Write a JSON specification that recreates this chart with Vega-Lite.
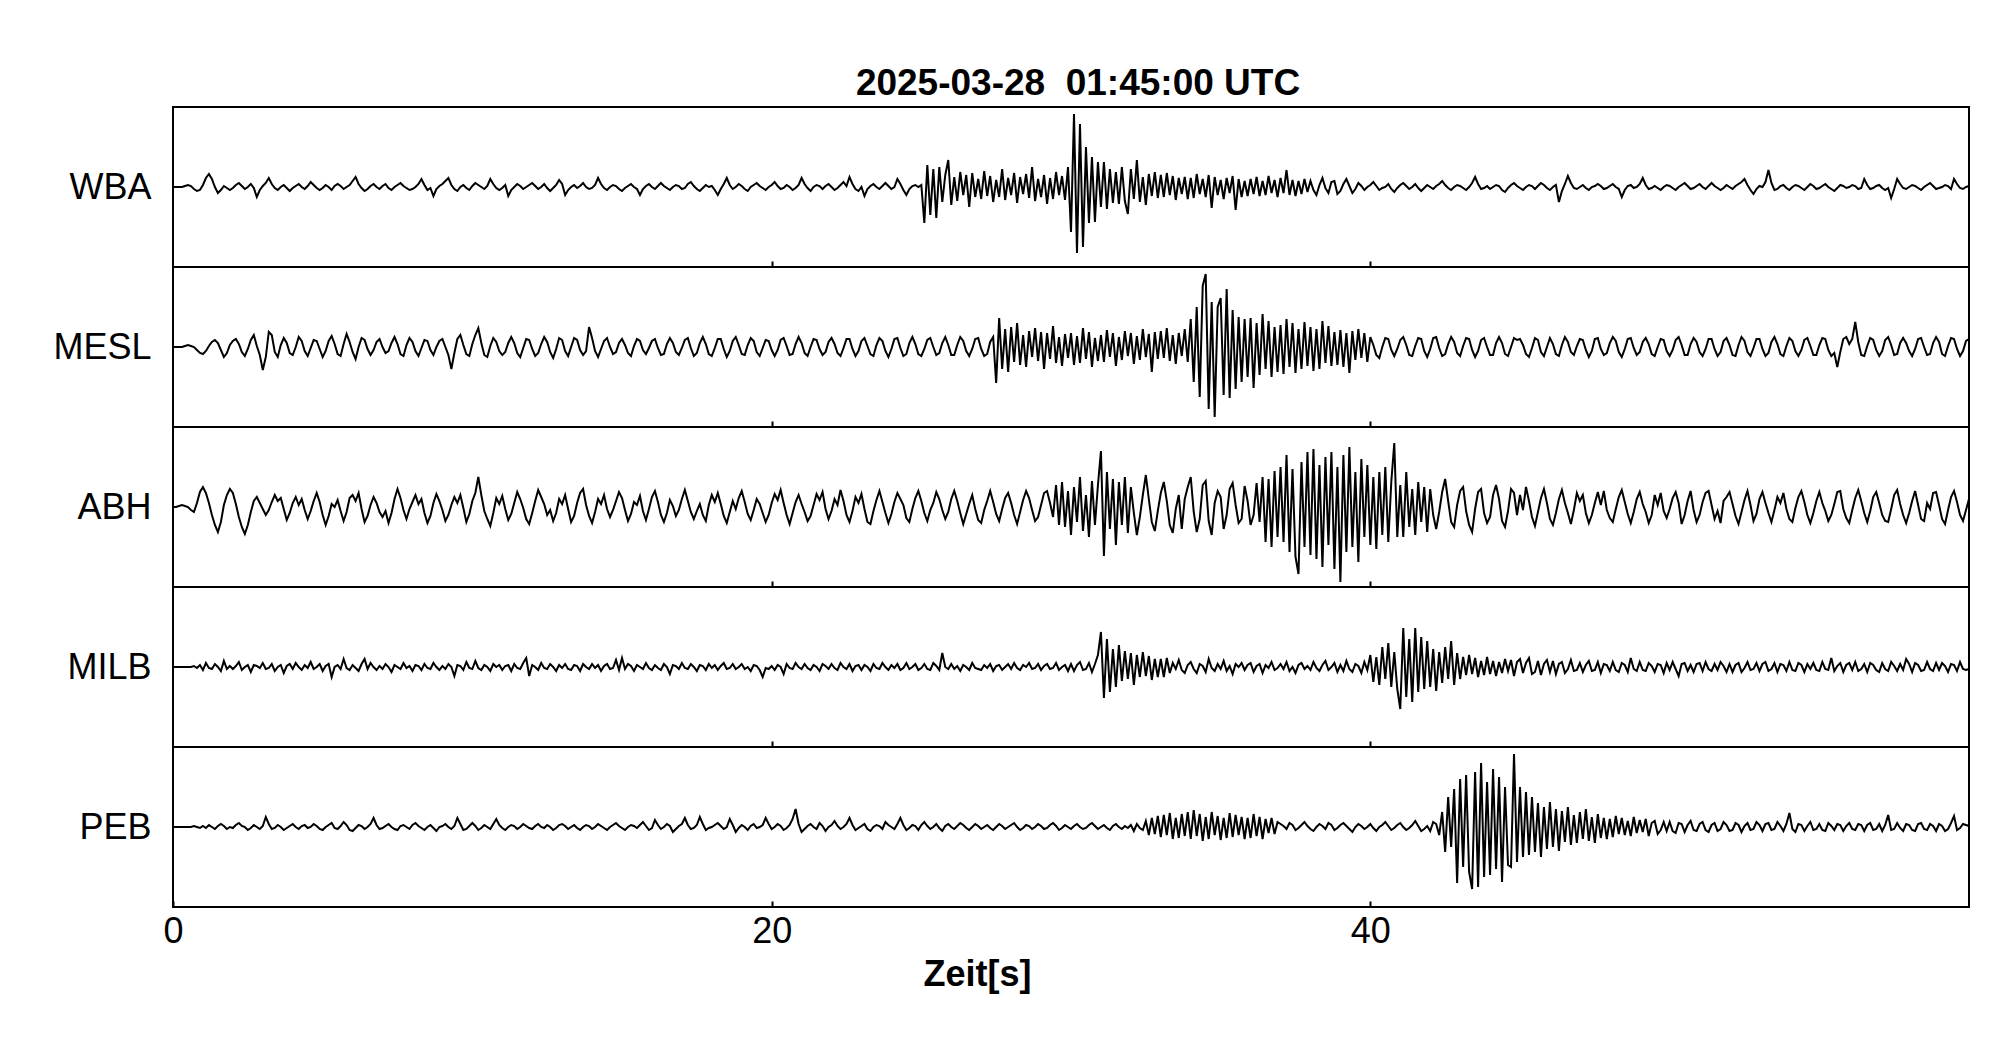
{
"$schema":"https://vega.github.io/schema/vega-lite/v6.json",
"background":"white",
"padding":{"left":51,"top":64,"right":5,"bottom":5},
"config":{"font":"Liberation Sans","view":{"stroke":"black","strokeWidth":2},"axis":{"grid":false,"domain":false,"tickColor":"black","tickWidth":2,"labelColor":"black","titleColor":"black"}},
"spacing":0,
"bounds":"flush",
"data":{"values":[
{"t":0,"WBA":0,"MESL":0,"ABH":0,"MILB":0,"PEB":0},
{"t":0.1,"WBA":0,"MESL":0,"ABH":0,"MILB":0,"PEB":0},
{"t":0.2,"WBA":0,"MESL":0,"ABH":1,"MILB":0,"PEB":0},
{"t":0.3,"WBA":0,"MESL":0,"ABH":2,"MILB":0,"PEB":0},
{"t":0.4,"WBA":1,"MESL":1,"ABH":1,"MILB":0,"PEB":0},
{"t":0.5,"WBA":2,"MESL":2,"ABH":0,"MILB":0,"PEB":0},
{"t":0.6,"WBA":1,"MESL":1,"ABH":-3,"MILB":0,"PEB":0},
{"t":0.7,"WBA":-2,"MESL":0,"ABH":-5,"MILB":1,"PEB":1},
{"t":0.8,"WBA":-4,"MESL":-3,"ABH":4,"MILB":-1,"PEB":0},
{"t":0.9,"WBA":-3,"MESL":-6,"ABH":15,"MILB":2,"PEB":-1},
{"t":1,"WBA":2,"MESL":-7,"ABH":20,"MILB":-3,"PEB":1},
{"t":1.1,"WBA":9,"MESL":-4,"ABH":14,"MILB":4,"PEB":-1},
{"t":1.2,"WBA":13,"MESL":1,"ABH":4,"MILB":-1,"PEB":2},
{"t":1.3,"WBA":8,"MESL":5,"ABH":-8,"MILB":-2,"PEB":0},
{"t":1.4,"WBA":0,"MESL":7,"ABH":-18,"MILB":3,"PEB":-2},
{"t":1.5,"WBA":-6,"MESL":4,"ABH":-25,"MILB":0,"PEB":1},
{"t":1.6,"WBA":-3,"MESL":-3,"ABH":-15,"MILB":-4,"PEB":3},
{"t":1.7,"WBA":1,"MESL":-10,"ABH":2,"MILB":6,"PEB":1},
{"t":1.8,"WBA":-1,"MESL":-6,"ABH":12,"MILB":-2,"PEB":-2},
{"t":1.9,"WBA":-3,"MESL":2,"ABH":18,"MILB":1,"PEB":0},
{"t":2,"WBA":-1,"MESL":6,"ABH":14,"MILB":-2,"PEB":-1},
{"t":2.1,"WBA":2,"MESL":8,"ABH":3,"MILB":1,"PEB":2},
{"t":2.2,"WBA":4,"MESL":3,"ABH":-10,"MILB":5,"PEB":4},
{"t":2.3,"WBA":1,"MESL":-5,"ABH":-20,"MILB":-3,"PEB":1},
{"t":2.4,"WBA":-2,"MESL":-9,"ABH":-27,"MILB":0,"PEB":0},
{"t":2.5,"WBA":0,"MESL":-2,"ABH":-18,"MILB":2,"PEB":-3},
{"t":2.6,"WBA":3,"MESL":7,"ABH":-5,"MILB":-5,"PEB":-1},
{"t":2.7,"WBA":-1,"MESL":12,"ABH":6,"MILB":2,"PEB":2},
{"t":2.8,"WBA":-10,"MESL":1,"ABH":10,"MILB":1,"PEB":0},
{"t":2.9,"WBA":-3,"MESL":-8,"ABH":4,"MILB":-1,"PEB":-2},
{"t":3,"WBA":1,"MESL":-23,"ABH":-2,"MILB":4,"PEB":1},
{"t":3.1,"WBA":4,"MESL":-10,"ABH":-8,"MILB":-2,"PEB":10},
{"t":3.2,"WBA":9,"MESL":15,"ABH":-3,"MILB":-1,"PEB":3},
{"t":3.3,"WBA":3,"MESL":12,"ABH":5,"MILB":3,"PEB":-2},
{"t":3.4,"WBA":-1,"MESL":-5,"ABH":12,"MILB":-4,"PEB":-1},
{"t":3.5,"WBA":-3,"MESL":-10,"ABH":6,"MILB":0,"PEB":2},
{"t":3.6,"WBA":0,"MESL":2,"ABH":9,"MILB":2,"PEB":0},
{"t":3.7,"WBA":2,"MESL":9,"ABH":-2,"MILB":-6,"PEB":-3},
{"t":3.8,"WBA":-1,"MESL":4,"ABH":-13,"MILB":1,"PEB":-1},
{"t":3.9,"WBA":-4,"MESL":-6,"ABH":-6,"MILB":3,"PEB":1},
{"t":4,"WBA":-1,"MESL":-8,"ABH":4,"MILB":-2,"PEB":3},
{"t":4.1,"WBA":1,"MESL":0,"ABH":10,"MILB":4,"PEB":0},
{"t":4.2,"WBA":3,"MESL":10,"ABH":2,"MILB":0,"PEB":-2},
{"t":4.3,"WBA":0,"MESL":6,"ABH":8,"MILB":-3,"PEB":1},
{"t":4.4,"WBA":-2,"MESL":-4,"ABH":-3,"MILB":2,"PEB":2},
{"t":4.5,"WBA":1,"MESL":-9,"ABH":-12,"MILB":-1,"PEB":-1},
{"t":4.6,"WBA":5,"MESL":-1,"ABH":-4,"MILB":5,"PEB":0},
{"t":4.7,"WBA":2,"MESL":7,"ABH":6,"MILB":-2,"PEB":3},
{"t":4.8,"WBA":-1,"MESL":6,"ABH":14,"MILB":0,"PEB":1},
{"t":4.9,"WBA":-3,"MESL":-2,"ABH":5,"MILB":3,"PEB":-2},
{"t":5,"WBA":-1,"MESL":-10,"ABH":-8,"MILB":-4,"PEB":-3},
{"t":5.1,"WBA":2,"MESL":-4,"ABH":-18,"MILB":1,"PEB":0},
{"t":5.2,"WBA":0,"MESL":6,"ABH":-9,"MILB":3,"PEB":2},
{"t":5.3,"WBA":-3,"MESL":11,"ABH":3,"MILB":-10,"PEB":4},
{"t":5.4,"WBA":1,"MESL":3,"ABH":0,"MILB":0,"PEB":-1},
{"t":5.5,"WBA":3,"MESL":-7,"ABH":7,"MILB":2,"PEB":-2},
{"t":5.6,"WBA":1,"MESL":-9,"ABH":-4,"MILB":-2,"PEB":1},
{"t":5.7,"WBA":-2,"MESL":3,"ABH":-14,"MILB":8,"PEB":5},
{"t":5.8,"WBA":0,"MESL":13,"ABH":-5,"MILB":-1,"PEB":2},
{"t":5.9,"WBA":2,"MESL":5,"ABH":9,"MILB":-3,"PEB":-3},
{"t":6,"WBA":6,"MESL":-5,"ABH":12,"MILB":2,"PEB":-4},
{"t":6.1,"WBA":10,"MESL":-12,"ABH":6,"MILB":-1,"PEB":-1},
{"t":6.2,"WBA":3,"MESL":0,"ABH":14,"MILB":-4,"PEB":2},
{"t":6.3,"WBA":-1,"MESL":9,"ABH":-2,"MILB":3,"PEB":1},
{"t":6.4,"WBA":-4,"MESL":7,"ABH":-15,"MILB":8,"PEB":-2},
{"t":6.5,"WBA":-2,"MESL":-2,"ABH":-9,"MILB":-2,"PEB":0},
{"t":6.6,"WBA":1,"MESL":-8,"ABH":2,"MILB":4,"PEB":3},
{"t":6.7,"WBA":3,"MESL":-3,"ABH":10,"MILB":0,"PEB":9},
{"t":6.8,"WBA":0,"MESL":5,"ABH":4,"MILB":-3,"PEB":2},
{"t":6.9,"WBA":-2,"MESL":8,"ABH":-5,"MILB":1,"PEB":-2},
{"t":7,"WBA":1,"MESL":0,"ABH":-10,"MILB":-2,"PEB":-1},
{"t":7.1,"WBA":3,"MESL":-6,"ABH":-4,"MILB":3,"PEB":1},
{"t":7.2,"WBA":-1,"MESL":-4,"ABH":-16,"MILB":0,"PEB":3},
{"t":7.3,"WBA":-3,"MESL":4,"ABH":-6,"MILB":-5,"PEB":0},
{"t":7.4,"WBA":0,"MESL":10,"ABH":8,"MILB":2,"PEB":-2},
{"t":7.5,"WBA":2,"MESL":3,"ABH":18,"MILB":0,"PEB":-3},
{"t":7.6,"WBA":4,"MESL":-7,"ABH":9,"MILB":-2,"PEB":1},
{"t":7.7,"WBA":1,"MESL":-9,"ABH":-3,"MILB":4,"PEB":2},
{"t":7.8,"WBA":-1,"MESL":2,"ABH":-12,"MILB":-1,"PEB":0},
{"t":7.9,"WBA":-3,"MESL":9,"ABH":-2,"MILB":1,"PEB":-2},
{"t":8,"WBA":-2,"MESL":5,"ABH":5,"MILB":-4,"PEB":2},
{"t":8.1,"WBA":0,"MESL":-4,"ABH":12,"MILB":2,"PEB":4},
{"t":8.2,"WBA":3,"MESL":-9,"ABH":3,"MILB":1,"PEB":1},
{"t":8.3,"WBA":8,"MESL":-1,"ABH":8,"MILB":-3,"PEB":-1},
{"t":8.4,"WBA":2,"MESL":7,"ABH":-6,"MILB":3,"PEB":-3},
{"t":8.5,"WBA":-3,"MESL":6,"ABH":-16,"MILB":-1,"PEB":0},
{"t":8.6,"WBA":-1,"MESL":-3,"ABH":-9,"MILB":-2,"PEB":2},
{"t":8.7,"WBA":-9,"MESL":-8,"ABH":4,"MILB":4,"PEB":-1},
{"t":8.8,"WBA":-2,"MESL":0,"ABH":13,"MILB":0,"PEB":-4},
{"t":8.9,"WBA":1,"MESL":6,"ABH":6,"MILB":-3,"PEB":0},
{"t":9,"WBA":3,"MESL":8,"ABH":-3,"MILB":1,"PEB":1},
{"t":9.1,"WBA":6,"MESL":0,"ABH":-14,"MILB":-2,"PEB":3},
{"t":9.2,"WBA":9,"MESL":-8,"ABH":-8,"MILB":3,"PEB":0},
{"t":9.3,"WBA":2,"MESL":-22,"ABH":2,"MILB":0,"PEB":-2},
{"t":9.4,"WBA":-2,"MESL":-6,"ABH":10,"MILB":-9,"PEB":1},
{"t":9.5,"WBA":-4,"MESL":8,"ABH":4,"MILB":2,"PEB":9},
{"t":9.6,"WBA":0,"MESL":12,"ABH":12,"MILB":1,"PEB":3},
{"t":9.7,"WBA":2,"MESL":2,"ABH":-1,"MILB":-3,"PEB":-3},
{"t":9.8,"WBA":-1,"MESL":-7,"ABH":-15,"MILB":5,"PEB":-2},
{"t":9.9,"WBA":-3,"MESL":-9,"ABH":-7,"MILB":-1,"PEB":1},
{"t":10,"WBA":1,"MESL":3,"ABH":6,"MILB":-2,"PEB":4},
{"t":10.1,"WBA":4,"MESL":12,"ABH":14,"MILB":6,"PEB":1},
{"t":10.2,"WBA":2,"MESL":19,"ABH":30,"MILB":-1,"PEB":-3},
{"t":10.3,"WBA":0,"MESL":4,"ABH":12,"MILB":-3,"PEB":-1},
{"t":10.4,"WBA":-2,"MESL":-8,"ABH":-4,"MILB":2,"PEB":2},
{"t":10.5,"WBA":1,"MESL":-10,"ABH":-12,"MILB":0,"PEB":0},
{"t":10.6,"WBA":8,"MESL":1,"ABH":-19,"MILB":-4,"PEB":-2},
{"t":10.7,"WBA":3,"MESL":9,"ABH":-6,"MILB":3,"PEB":3},
{"t":10.8,"WBA":-1,"MESL":5,"ABH":9,"MILB":0,"PEB":8},
{"t":10.9,"WBA":-3,"MESL":-4,"ABH":3,"MILB":2,"PEB":2},
{"t":11,"WBA":-1,"MESL":-8,"ABH":11,"MILB":-3,"PEB":-1},
{"t":11.1,"WBA":2,"MESL":-5,"ABH":-2,"MILB":1,"PEB":-3},
{"t":11.2,"WBA":-9,"MESL":4,"ABH":-13,"MILB":2,"PEB":0},
{"t":11.3,"WBA":-3,"MESL":10,"ABH":-7,"MILB":-4,"PEB":2},
{"t":11.4,"WBA":0,"MESL":4,"ABH":4,"MILB":3,"PEB":1},
{"t":11.5,"WBA":3,"MESL":-6,"ABH":15,"MILB":-1,"PEB":-2},
{"t":11.6,"WBA":1,"MESL":-10,"ABH":8,"MILB":-2,"PEB":0},
{"t":11.7,"WBA":-2,"MESL":-1,"ABH":-1,"MILB":4,"PEB":3},
{"t":11.8,"WBA":0,"MESL":8,"ABH":-12,"MILB":9,"PEB":1},
{"t":11.9,"WBA":2,"MESL":7,"ABH":-17,"MILB":-9,"PEB":-1},
{"t":12,"WBA":4,"MESL":-2,"ABH":-6,"MILB":2,"PEB":-2},
{"t":12.1,"WBA":1,"MESL":-9,"ABH":6,"MILB":0,"PEB":1},
{"t":12.2,"WBA":-2,"MESL":-6,"ABH":17,"MILB":-3,"PEB":3},
{"t":12.3,"WBA":0,"MESL":3,"ABH":10,"MILB":4,"PEB":0},
{"t":12.4,"WBA":3,"MESL":10,"ABH":3,"MILB":-1,"PEB":-1},
{"t":12.5,"WBA":-1,"MESL":5,"ABH":-8,"MILB":-2,"PEB":2},
{"t":12.6,"WBA":-4,"MESL":-5,"ABH":-3,"MILB":3,"PEB":0},
{"t":12.7,"WBA":-1,"MESL":-11,"ABH":-14,"MILB":0,"PEB":-3},
{"t":12.8,"WBA":2,"MESL":-2,"ABH":-6,"MILB":-4,"PEB":-1},
{"t":12.9,"WBA":7,"MESL":9,"ABH":8,"MILB":2,"PEB":2},
{"t":13,"WBA":3,"MESL":7,"ABH":3,"MILB":-1,"PEB":3},
{"t":13.1,"WBA":-8,"MESL":-4,"ABH":12,"MILB":3,"PEB":1},
{"t":13.2,"WBA":-3,"MESL":-9,"ABH":-2,"MILB":-2,"PEB":-2},
{"t":13.3,"WBA":0,"MESL":0,"ABH":-15,"MILB":-3,"PEB":0},
{"t":13.4,"WBA":2,"MESL":9,"ABH":-9,"MILB":2,"PEB":2},
{"t":13.5,"WBA":-1,"MESL":7,"ABH":4,"MILB":1,"PEB":-1},
{"t":13.6,"WBA":1,"MESL":-3,"ABH":14,"MILB":-4,"PEB":-3},
{"t":13.7,"WBA":4,"MESL":-8,"ABH":18,"MILB":3,"PEB":0},
{"t":13.8,"WBA":0,"MESL":-4,"ABH":2,"MILB":0,"PEB":2},
{"t":13.9,"WBA":-2,"MESL":20,"ABH":-9,"MILB":-2,"PEB":1},
{"t":14,"WBA":-1,"MESL":9,"ABH":-16,"MILB":3,"PEB":-2},
{"t":14.1,"WBA":2,"MESL":-4,"ABH":-5,"MILB":-1,"PEB":0},
{"t":14.2,"WBA":9,"MESL":-10,"ABH":8,"MILB":2,"PEB":3},
{"t":14.3,"WBA":3,"MESL":-2,"ABH":3,"MILB":-4,"PEB":1},
{"t":14.4,"WBA":-1,"MESL":6,"ABH":12,"MILB":1,"PEB":-1},
{"t":14.5,"WBA":-3,"MESL":9,"ABH":-2,"MILB":3,"PEB":-3},
{"t":14.6,"WBA":0,"MESL":0,"ABH":-10,"MILB":-2,"PEB":0},
{"t":14.7,"WBA":2,"MESL":-7,"ABH":-3,"MILB":-1,"PEB":2},
{"t":14.8,"WBA":1,"MESL":-5,"ABH":6,"MILB":7,"PEB":4},
{"t":14.9,"WBA":-2,"MESL":4,"ABH":15,"MILB":-3,"PEB":1},
{"t":15,"WBA":-4,"MESL":8,"ABH":9,"MILB":9,"PEB":-1},
{"t":15.1,"WBA":-1,"MESL":2,"ABH":-3,"MILB":-2,"PEB":-3},
{"t":15.2,"WBA":1,"MESL":-6,"ABH":-14,"MILB":3,"PEB":0},
{"t":15.3,"WBA":3,"MESL":-9,"ABH":-7,"MILB":1,"PEB":2},
{"t":15.4,"WBA":0,"MESL":1,"ABH":5,"MILB":-4,"PEB":1},
{"t":15.5,"WBA":-2,"MESL":8,"ABH":2,"MILB":2,"PEB":-1},
{"t":15.6,"WBA":-8,"MESL":6,"ABH":11,"MILB":0,"PEB":2},
{"t":15.7,"WBA":-2,"MESL":-3,"ABH":-4,"MILB":-2,"PEB":5},
{"t":15.8,"WBA":1,"MESL":-7,"ABH":-13,"MILB":4,"PEB":1},
{"t":15.9,"WBA":3,"MESL":-1,"ABH":-2,"MILB":-1,"PEB":-3},
{"t":16,"WBA":0,"MESL":6,"ABH":10,"MILB":-3,"PEB":-1},
{"t":16.1,"WBA":-2,"MESL":8,"ABH":16,"MILB":2,"PEB":7},
{"t":16.2,"WBA":1,"MESL":-1,"ABH":5,"MILB":-1,"PEB":2},
{"t":16.3,"WBA":4,"MESL":-8,"ABH":-8,"MILB":-3,"PEB":-2},
{"t":16.4,"WBA":1,"MESL":-7,"ABH":-15,"MILB":3,"PEB":0},
{"t":16.5,"WBA":-1,"MESL":3,"ABH":-6,"MILB":0,"PEB":3},
{"t":16.6,"WBA":-3,"MESL":9,"ABH":7,"MILB":-7,"PEB":1},
{"t":16.7,"WBA":0,"MESL":4,"ABH":1,"MILB":2,"PEB":-5},
{"t":16.8,"WBA":2,"MESL":-5,"ABH":-9,"MILB":1,"PEB":-2},
{"t":16.9,"WBA":1,"MESL":-8,"ABH":-3,"MILB":-2,"PEB":1},
{"t":17,"WBA":-2,"MESL":-1,"ABH":8,"MILB":4,"PEB":3},
{"t":17.1,"WBA":-1,"MESL":7,"ABH":17,"MILB":-1,"PEB":9},
{"t":17.2,"WBA":3,"MESL":9,"ABH":6,"MILB":-2,"PEB":2},
{"t":17.3,"WBA":5,"MESL":-1,"ABH":-5,"MILB":3,"PEB":-2},
{"t":17.4,"WBA":1,"MESL":-9,"ABH":-12,"MILB":0,"PEB":-1},
{"t":17.5,"WBA":-2,"MESL":-6,"ABH":-4,"MILB":-4,"PEB":2},
{"t":17.6,"WBA":-4,"MESL":4,"ABH":3,"MILB":2,"PEB":10},
{"t":17.7,"WBA":-1,"MESL":10,"ABH":-8,"MILB":1,"PEB":3},
{"t":17.8,"WBA":2,"MESL":3,"ABH":-14,"MILB":-3,"PEB":-3},
{"t":17.9,"WBA":0,"MESL":-7,"ABH":2,"MILB":3,"PEB":-1},
{"t":18,"WBA":1,"MESL":-9,"ABH":12,"MILB":-1,"PEB":0},
{"t":18.1,"WBA":-3,"MESL":-1,"ABH":5,"MILB":2,"PEB":2},
{"t":18.2,"WBA":-8,"MESL":8,"ABH":14,"MILB":-3,"PEB":4},
{"t":18.3,"WBA":-2,"MESL":8,"ABH":3,"MILB":1,"PEB":1},
{"t":18.4,"WBA":3,"MESL":-2,"ABH":-9,"MILB":4,"PEB":-2},
{"t":18.5,"WBA":9,"MESL":-10,"ABH":-16,"MILB":-2,"PEB":0},
{"t":18.6,"WBA":2,"MESL":-4,"ABH":-5,"MILB":-1,"PEB":8},
{"t":18.7,"WBA":-2,"MESL":6,"ABH":6,"MILB":3,"PEB":2},
{"t":18.8,"WBA":0,"MESL":10,"ABH":-2,"MILB":-2,"PEB":-5},
{"t":18.9,"WBA":3,"MESL":2,"ABH":9,"MILB":0,"PEB":-1},
{"t":19,"WBA":1,"MESL":-7,"ABH":16,"MILB":3,"PEB":2},
{"t":19.1,"WBA":-2,"MESL":-8,"ABH":5,"MILB":-2,"PEB":0},
{"t":19.2,"WBA":-4,"MESL":2,"ABH":-7,"MILB":0,"PEB":-3},
{"t":19.3,"WBA":0,"MESL":9,"ABH":-13,"MILB":-4,"PEB":1},
{"t":19.4,"WBA":2,"MESL":6,"ABH":-3,"MILB":2,"PEB":3},
{"t":19.5,"WBA":4,"MESL":-5,"ABH":8,"MILB":1,"PEB":-1},
{"t":19.6,"WBA":1,"MESL":-9,"ABH":3,"MILB":-3,"PEB":0},
{"t":19.7,"WBA":-1,"MESL":-1,"ABH":-6,"MILB":-10,"PEB":2},
{"t":19.8,"WBA":-3,"MESL":7,"ABH":-15,"MILB":-1,"PEB":9},
{"t":19.9,"WBA":0,"MESL":6,"ABH":-8,"MILB":-2,"PEB":3},
{"t":20,"WBA":2,"MESL":-3,"ABH":4,"MILB":1,"PEB":-2},
{"t":20.1,"WBA":5,"MESL":-9,"ABH":13,"MILB":-3,"PEB":0},
{"t":20.2,"WBA":1,"MESL":-3,"ABH":7,"MILB":2,"PEB":3},
{"t":20.3,"WBA":-2,"MESL":7,"ABH":17,"MILB":0,"PEB":1},
{"t":20.4,"WBA":-1,"MESL":9,"ABH":4,"MILB":-7,"PEB":-3},
{"t":20.5,"WBA":2,"MESL":1,"ABH":-8,"MILB":3,"PEB":-1},
{"t":20.6,"WBA":0,"MESL":-8,"ABH":-17,"MILB":-1,"PEB":2},
{"t":20.7,"WBA":-3,"MESL":-7,"ABH":-6,"MILB":-2,"PEB":8},
{"t":20.8,"WBA":-1,"MESL":3,"ABH":5,"MILB":4,"PEB":18},
{"t":20.9,"WBA":2,"MESL":10,"ABH":12,"MILB":0,"PEB":3},
{"t":21,"WBA":9,"MESL":4,"ABH":3,"MILB":-2,"PEB":-5},
{"t":21.1,"WBA":3,"MESL":-6,"ABH":-5,"MILB":3,"PEB":-2},
{"t":21.2,"WBA":-1,"MESL":-9,"ABH":-14,"MILB":-1,"PEB":1},
{"t":21.3,"WBA":-4,"MESL":0,"ABH":-9,"MILB":-3,"PEB":3},
{"t":21.4,"WBA":0,"MESL":8,"ABH":2,"MILB":2,"PEB":0},
{"t":21.5,"WBA":2,"MESL":7,"ABH":13,"MILB":0,"PEB":-2},
{"t":21.6,"WBA":1,"MESL":-2,"ABH":7,"MILB":-4,"PEB":4},
{"t":21.7,"WBA":-2,"MESL":-8,"ABH":15,"MILB":3,"PEB":1},
{"t":21.8,"WBA":1,"MESL":-5,"ABH":-2,"MILB":1,"PEB":-4},
{"t":21.9,"WBA":3,"MESL":5,"ABH":-12,"MILB":-2,"PEB":0},
{"t":22,"WBA":0,"MESL":9,"ABH":-4,"MILB":3,"PEB":2},
{"t":22.1,"WBA":-3,"MESL":3,"ABH":8,"MILB":-1,"PEB":6},
{"t":22.2,"WBA":-1,"MESL":-6,"ABH":2,"MILB":-3,"PEB":1},
{"t":22.3,"WBA":2,"MESL":-9,"ABH":17,"MILB":4,"PEB":-2},
{"t":22.4,"WBA":5,"MESL":-1,"ABH":6,"MILB":0,"PEB":0},
{"t":22.5,"WBA":1,"MESL":8,"ABH":-8,"MILB":-2,"PEB":3},
{"t":22.6,"WBA":10,"MESL":8,"ABH":-15,"MILB":3,"PEB":9},
{"t":22.7,"WBA":3,"MESL":-2,"ABH":-4,"MILB":-4,"PEB":2},
{"t":22.8,"WBA":-2,"MESL":-9,"ABH":10,"MILB":1,"PEB":-3},
{"t":22.9,"WBA":-4,"MESL":-4,"ABH":4,"MILB":2,"PEB":-1},
{"t":23,"WBA":0,"MESL":6,"ABH":13,"MILB":-3,"PEB":1},
{"t":23.1,"WBA":-9,"MESL":9,"ABH":-2,"MILB":2,"PEB":3},
{"t":23.2,"WBA":-2,"MESL":1,"ABH":-15,"MILB":0,"PEB":-2},
{"t":23.3,"WBA":1,"MESL":-7,"ABH":-17,"MILB":-4,"PEB":-4},
{"t":23.4,"WBA":3,"MESL":-9,"ABH":-4,"MILB":3,"PEB":0},
{"t":23.5,"WBA":0,"MESL":2,"ABH":7,"MILB":-1,"PEB":2},
{"t":23.6,"WBA":-2,"MESL":9,"ABH":16,"MILB":-2,"PEB":1},
{"t":23.7,"WBA":1,"MESL":6,"ABH":5,"MILB":4,"PEB":-2},
{"t":23.8,"WBA":4,"MESL":-4,"ABH":-6,"MILB":0,"PEB":5},
{"t":23.9,"WBA":1,"MESL":-10,"ABH":-16,"MILB":-3,"PEB":2},
{"t":24,"WBA":-2,"MESL":-2,"ABH":-7,"MILB":2,"PEB":0},
{"t":24.1,"WBA":0,"MESL":8,"ABH":5,"MILB":-1,"PEB":-2},
{"t":24.2,"WBA":8,"MESL":9,"ABH":14,"MILB":3,"PEB":3},
{"t":24.3,"WBA":3,"MESL":-1,"ABH":8,"MILB":-3,"PEB":9},
{"t":24.4,"WBA":-3,"MESL":-9,"ABH":2,"MILB":-1,"PEB":2},
{"t":24.5,"WBA":-8,"MESL":-7,"ABH":-11,"MILB":4,"PEB":-3},
{"t":24.6,"WBA":-2,"MESL":4,"ABH":-15,"MILB":-2,"PEB":-1},
{"t":24.7,"WBA":1,"MESL":10,"ABH":-2,"MILB":0,"PEB":2},
{"t":24.8,"WBA":2,"MESL":3,"ABH":9,"MILB":3,"PEB":1},
{"t":24.9,"WBA":0,"MESL":-7,"ABH":16,"MILB":-3,"PEB":-3},
{"t":25,"WBA":2,"MESL":-9,"ABH":6,"MILB":-1,"PEB":2},
{"t":25.1,"WBA":-36,"MESL":-2,"ABH":-6,"MILB":3,"PEB":5},
{"t":25.2,"WBA":22,"MESL":7,"ABH":-14,"MILB":-2,"PEB":1},
{"t":25.3,"WBA":-28,"MESL":9,"ABH":-3,"MILB":-3,"PEB":-2},
{"t":25.4,"WBA":18,"MESL":0,"ABH":4,"MILB":4,"PEB":0},
{"t":25.5,"WBA":-31,"MESL":-8,"ABH":15,"MILB":1,"PEB":3},
{"t":25.6,"WBA":20,"MESL":-6,"ABH":8,"MILB":-3,"PEB":-1},
{"t":25.7,"WBA":-15,"MESL":4,"ABH":-3,"MILB":14,"PEB":-4},
{"t":25.8,"WBA":12,"MESL":10,"ABH":-12,"MILB":0,"PEB":1},
{"t":25.9,"WBA":27,"MESL":2,"ABH":-5,"MILB":-2,"PEB":3},
{"t":26,"WBA":-18,"MESL":-8,"ABH":8,"MILB":3,"PEB":0},
{"t":26.1,"WBA":10,"MESL":-8,"ABH":16,"MILB":-2,"PEB":-2},
{"t":26.2,"WBA":-14,"MESL":2,"ABH":6,"MILB":1,"PEB":1},
{"t":26.3,"WBA":15,"MESL":10,"ABH":-6,"MILB":-4,"PEB":4},
{"t":26.4,"WBA":-8,"MESL":6,"ABH":-17,"MILB":2,"PEB":2},
{"t":26.5,"WBA":12,"MESL":-4,"ABH":-7,"MILB":0,"PEB":-1},
{"t":26.6,"WBA":-20,"MESL":-9,"ABH":3,"MILB":-3,"PEB":-3},
{"t":26.7,"WBA":14,"MESL":-2,"ABH":12,"MILB":4,"PEB":0},
{"t":26.8,"WBA":-10,"MESL":8,"ABH":-2,"MILB":-1,"PEB":3},
{"t":26.9,"WBA":8,"MESL":9,"ABH":-13,"MILB":-2,"PEB":1},
{"t":27,"WBA":-12,"MESL":-2,"ABH":-16,"MILB":-3,"PEB":-2},
{"t":27.1,"WBA":16,"MESL":-9,"ABH":-3,"MILB":2,"PEB":0},
{"t":27.2,"WBA":-9,"MESL":-7,"ABH":6,"MILB":-1,"PEB":2},
{"t":27.3,"WBA":11,"MESL":5,"ABH":16,"MILB":3,"PEB":-1},
{"t":27.4,"WBA":-15,"MESL":10,"ABH":5,"MILB":-4,"PEB":-3},
{"t":27.5,"WBA":7,"MESL":-36,"ABH":-7,"MILB":1,"PEB":0},
{"t":27.6,"WBA":-10,"MESL":29,"ABH":-14,"MILB":2,"PEB":3},
{"t":27.7,"WBA":18,"MESL":-22,"ABH":-2,"MILB":-3,"PEB":1},
{"t":27.8,"WBA":-13,"MESL":18,"ABH":9,"MILB":0,"PEB":-2},
{"t":27.9,"WBA":9,"MESL":-25,"ABH":14,"MILB":3,"PEB":0},
{"t":28,"WBA":-8,"MESL":20,"ABH":4,"MILB":-2,"PEB":2},
{"t":28.1,"WBA":14,"MESL":-15,"ABH":-8,"MILB":4,"PEB":4},
{"t":28.2,"WBA":-16,"MESL":24,"ABH":-17,"MILB":-1,"PEB":0},
{"t":28.3,"WBA":10,"MESL":-18,"ABH":-5,"MILB":-3,"PEB":-3},
{"t":28.4,"WBA":-7,"MESL":12,"ABH":7,"MILB":2,"PEB":-1},
{"t":28.5,"WBA":13,"MESL":-20,"ABH":16,"MILB":0,"PEB":2},
{"t":28.6,"WBA":-11,"MESL":16,"ABH":9,"MILB":4,"PEB":1},
{"t":28.7,"WBA":20,"MESL":-10,"ABH":-3,"MILB":-2,"PEB":-2},
{"t":28.8,"WBA":-14,"MESL":19,"ABH":-14,"MILB":-1,"PEB":0},
{"t":28.9,"WBA":8,"MESL":-14,"ABH":-10,"MILB":3,"PEB":3},
{"t":29,"WBA":-10,"MESL":15,"ABH":2,"MILB":-3,"PEB":1},
{"t":29.1,"WBA":12,"MESL":-22,"ABH":14,"MILB":1,"PEB":-2},
{"t":29.2,"WBA":-17,"MESL":14,"ABH":16,"MILB":3,"PEB":-1},
{"t":29.3,"WBA":9,"MESL":-12,"ABH":4,"MILB":-2,"PEB":2},
{"t":29.4,"WBA":-12,"MESL":21,"ABH":-10,"MILB":-1,"PEB":4},
{"t":29.5,"WBA":15,"MESL":-16,"ABH":22,"MILB":4,"PEB":1},
{"t":29.6,"WBA":-8,"MESL":10,"ABH":-18,"MILB":-3,"PEB":-3},
{"t":29.7,"WBA":11,"MESL":-19,"ABH":25,"MILB":0,"PEB":-1},
{"t":29.8,"WBA":-13,"MESL":13,"ABH":-20,"MILB":2,"PEB":2},
{"t":29.9,"WBA":20,"MESL":-11,"ABH":16,"MILB":-4,"PEB":0},
{"t":30,"WBA":-45,"MESL":14,"ABH":-28,"MILB":3,"PEB":-2},
{"t":30.1,"WBA":73,"MESL":-18,"ABH":20,"MILB":-4,"PEB":1},
{"t":30.2,"WBA":-66,"MESL":11,"ABH":-15,"MILB":2,"PEB":3},
{"t":30.3,"WBA":63,"MESL":-16,"ABH":30,"MILB":5,"PEB":0},
{"t":30.4,"WBA":-60,"MESL":19,"ABH":-24,"MILB":-3,"PEB":-2},
{"t":30.5,"WBA":40,"MESL":-12,"ABH":12,"MILB":-2,"PEB":-1},
{"t":30.6,"WBA":-36,"MESL":15,"ABH":-30,"MILB":4,"PEB":2},
{"t":30.7,"WBA":30,"MESL":-20,"ABH":26,"MILB":-5,"PEB":4},
{"t":30.8,"WBA":-35,"MESL":9,"ABH":-18,"MILB":3,"PEB":1},
{"t":30.9,"WBA":25,"MESL":-14,"ABH":22,"MILB":12,"PEB":-2},
{"t":31,"WBA":-20,"MESL":12,"ABH":56,"MILB":35,"PEB":0},
{"t":31.1,"WBA":25,"MESL":-15,"ABH":-49,"MILB":-31,"PEB":2},
{"t":31.2,"WBA":-22,"MESL":17,"ABH":35,"MILB":28,"PEB":-1},
{"t":31.3,"WBA":18,"MESL":-10,"ABH":-22,"MILB":-25,"PEB":-3},
{"t":31.4,"WBA":-16,"MESL":14,"ABH":28,"MILB":18,"PEB":1},
{"t":31.5,"WBA":15,"MESL":-19,"ABH":-38,"MILB":-20,"PEB":3},
{"t":31.6,"WBA":-17,"MESL":10,"ABH":25,"MILB":22,"PEB":0},
{"t":31.7,"WBA":20,"MESL":-13,"ABH":-18,"MILB":-14,"PEB":-2},
{"t":31.8,"WBA":-14,"MESL":16,"ABH":30,"MILB":16,"PEB":1},
{"t":31.9,"WBA":-27,"MESL":-9,"ABH":-26,"MILB":-12,"PEB":-1},
{"t":32,"WBA":18,"MESL":14,"ABH":20,"MILB":14,"PEB":2},
{"t":32.1,"WBA":-12,"MESL":-17,"ABH":-6,"MILB":-18,"PEB":-4},
{"t":32.2,"WBA":27,"MESL":11,"ABH":-28,"MILB":12,"PEB":3},
{"t":32.3,"WBA":-15,"MESL":-13,"ABH":-10,"MILB":-10,"PEB":-1},
{"t":32.4,"WBA":10,"MESL":18,"ABH":12,"MILB":15,"PEB":-3},
{"t":32.5,"WBA":-18,"MESL":-10,"ABH":32,"MILB":-9,"PEB":6},
{"t":32.6,"WBA":13,"MESL":13,"ABH":8,"MILB":11,"PEB":-8},
{"t":32.7,"WBA":-9,"MESL":-25,"ABH":-15,"MILB":-13,"PEB":9},
{"t":32.8,"WBA":15,"MESL":15,"ABH":-24,"MILB":8,"PEB":-7},
{"t":32.9,"WBA":-11,"MESL":-12,"ABH":-4,"MILB":-10,"PEB":11},
{"t":33,"WBA":12,"MESL":16,"ABH":14,"MILB":8,"PEB":-10},
{"t":33.1,"WBA":-10,"MESL":-11,"ABH":25,"MILB":-10,"PEB":12},
{"t":33.2,"WBA":14,"MESL":19,"ABH":6,"MILB":9,"PEB":-8},
{"t":33.3,"WBA":-8,"MESL":-14,"ABH":-18,"MILB":-6,"PEB":14},
{"t":33.4,"WBA":11,"MESL":12,"ABH":-26,"MILB":4,"PEB":-12},
{"t":33.5,"WBA":-13,"MESL":-17,"ABH":-2,"MILB":-2,"PEB":9},
{"t":33.6,"WBA":9,"MESL":14,"ABH":12,"MILB":7,"PEB":-11},
{"t":33.7,"WBA":-7,"MESL":-9,"ABH":-22,"MILB":-3,"PEB":13},
{"t":33.8,"WBA":10,"MESL":18,"ABH":8,"MILB":-6,"PEB":-9},
{"t":33.9,"WBA":-12,"MESL":-15,"ABH":20,"MILB":2,"PEB":15},
{"t":34,"WBA":9,"MESL":28,"ABH":30,"MILB":5,"PEB":-12},
{"t":34.1,"WBA":-11,"MESL":-35,"ABH":-5,"MILB":-2,"PEB":17},
{"t":34.2,"WBA":13,"MESL":40,"ABH":-25,"MILB":-6,"PEB":-9},
{"t":34.3,"WBA":-7,"MESL":-50,"ABH":-12,"MILB":3,"PEB":13},
{"t":34.4,"WBA":8,"MESL":61,"ABH":22,"MILB":1,"PEB":-14},
{"t":34.5,"WBA":-10,"MESL":73,"ABH":26,"MILB":-5,"PEB":10},
{"t":34.6,"WBA":12,"MESL":-62,"ABH":-14,"MILB":8,"PEB":-12},
{"t":34.7,"WBA":-21,"MESL":45,"ABH":-28,"MILB":-1,"PEB":15},
{"t":34.8,"WBA":10,"MESL":-70,"ABH":4,"MILB":-4,"PEB":-8},
{"t":34.9,"WBA":-8,"MESL":40,"ABH":16,"MILB":3,"PEB":11},
{"t":35,"WBA":7,"MESL":49,"ABH":10,"MILB":-2,"PEB":-13},
{"t":35.1,"WBA":-12,"MESL":-48,"ABH":-22,"MILB":6,"PEB":9},
{"t":35.2,"WBA":9,"MESL":58,"ABH":-8,"MILB":-4,"PEB":-11},
{"t":35.3,"WBA":-6,"MESL":-51,"ABH":18,"MILB":1,"PEB":14},
{"t":35.4,"WBA":11,"MESL":37,"ABH":24,"MILB":-7,"PEB":-10},
{"t":35.5,"WBA":-23,"MESL":-42,"ABH":2,"MILB":3,"PEB":12},
{"t":35.6,"WBA":8,"MESL":30,"ABH":-16,"MILB":0,"PEB":-8},
{"t":35.7,"WBA":-10,"MESL":-35,"ABH":-12,"MILB":4,"PEB":10},
{"t":35.8,"WBA":6,"MESL":28,"ABH":21,"MILB":-3,"PEB":-12},
{"t":35.9,"WBA":-9,"MESL":-30,"ABH":6,"MILB":2,"PEB":9},
{"t":36,"WBA":8,"MESL":29,"ABH":-18,"MILB":4,"PEB":-11},
{"t":36.1,"WBA":-7,"MESL":-41,"ABH":-8,"MILB":-5,"PEB":13},
{"t":36.2,"WBA":10,"MESL":24,"ABH":24,"MILB":1,"PEB":-9},
{"t":36.3,"WBA":-9,"MESL":-28,"ABH":-15,"MILB":3,"PEB":10},
{"t":36.4,"WBA":6,"MESL":33,"ABH":30,"MILB":-6,"PEB":-12},
{"t":36.5,"WBA":-8,"MESL":-22,"ABH":-35,"MILB":2,"PEB":8},
{"t":36.6,"WBA":11,"MESL":26,"ABH":28,"MILB":-1,"PEB":-6},
{"t":36.7,"WBA":-6,"MESL":-30,"ABH":-40,"MILB":5,"PEB":9},
{"t":36.8,"WBA":7,"MESL":20,"ABH":36,"MILB":-3,"PEB":-7},
{"t":36.9,"WBA":-10,"MESL":-25,"ABH":-30,"MILB":-1,"PEB":5},
{"t":37,"WBA":9,"MESL":22,"ABH":40,"MILB":3,"PEB":3},
{"t":37.1,"WBA":-6,"MESL":-27,"ABH":-35,"MILB":-2,"PEB":1},
{"t":37.2,"WBA":17,"MESL":28,"ABH":52,"MILB":5,"PEB":-2},
{"t":37.3,"WBA":-8,"MESL":-20,"ABH":-45,"MILB":-4,"PEB":4},
{"t":37.4,"WBA":7,"MESL":24,"ABH":38,"MILB":0,"PEB":2},
{"t":37.5,"WBA":-9,"MESL":-26,"ABH":-50,"MILB":-6,"PEB":-3},
{"t":37.6,"WBA":6,"MESL":18,"ABH":-67,"MILB":2,"PEB":-1},
{"t":37.7,"WBA":-7,"MESL":-22,"ABH":45,"MILB":4,"PEB":2},
{"t":37.8,"WBA":8,"MESL":25,"ABH":-40,"MILB":-2,"PEB":5},
{"t":37.9,"WBA":-5,"MESL":-19,"ABH":55,"MILB":1,"PEB":1},
{"t":38,"WBA":6,"MESL":20,"ABH":-48,"MILB":-3,"PEB":-2},
{"t":38.1,"WBA":-3,"MESL":-24,"ABH":58,"MILB":5,"PEB":-4},
{"t":38.2,"WBA":-8,"MESL":18,"ABH":-52,"MILB":-1,"PEB":0},
{"t":38.3,"WBA":2,"MESL":-22,"ABH":42,"MILB":-4,"PEB":3},
{"t":38.4,"WBA":9,"MESL":26,"ABH":-60,"MILB":2,"PEB":1},
{"t":38.5,"WBA":-1,"MESL":-16,"ABH":50,"MILB":6,"PEB":-2},
{"t":38.6,"WBA":-6,"MESL":21,"ABH":-38,"MILB":-3,"PEB":4},
{"t":38.7,"WBA":5,"MESL":-19,"ABH":55,"MILB":0,"PEB":2},
{"t":38.8,"WBA":6,"MESL":15,"ABH":-62,"MILB":4,"PEB":-3},
{"t":38.9,"WBA":-7,"MESL":-18,"ABH":40,"MILB":-5,"PEB":-1},
{"t":39,"WBA":-4,"MESL":17,"ABH":-75,"MILB":2,"PEB":2},
{"t":39.1,"WBA":3,"MESL":-20,"ABH":52,"MILB":-4,"PEB":4},
{"t":39.2,"WBA":8,"MESL":14,"ABH":-45,"MILB":6,"PEB":1},
{"t":39.3,"WBA":1,"MESL":-26,"ABH":60,"MILB":-2,"PEB":-2},
{"t":39.4,"WBA":-6,"MESL":16,"ABH":-40,"MILB":-5,"PEB":-5},
{"t":39.5,"WBA":-2,"MESL":-13,"ABH":35,"MILB":3,"PEB":0},
{"t":39.6,"WBA":4,"MESL":18,"ABH":-55,"MILB":1,"PEB":3},
{"t":39.7,"WBA":1,"MESL":-11,"ABH":48,"MILB":-6,"PEB":1},
{"t":39.8,"WBA":-3,"MESL":14,"ABH":-30,"MILB":5,"PEB":-2},
{"t":39.9,"WBA":0,"MESL":-15,"ABH":42,"MILB":-3,"PEB":0},
{"t":40,"WBA":2,"MESL":10,"ABH":-38,"MILB":12,"PEB":3},
{"t":40.1,"WBA":5,"MESL":2,"ABH":30,"MILB":-15,"PEB":-1},
{"t":40.2,"WBA":1,"MESL":-8,"ABH":-42,"MILB":10,"PEB":-4},
{"t":40.3,"WBA":-3,"MESL":-11,"ABH":35,"MILB":-18,"PEB":0},
{"t":40.4,"WBA":-1,"MESL":0,"ABH":-28,"MILB":20,"PEB":2},
{"t":40.5,"WBA":0,"MESL":9,"ABH":40,"MILB":-12,"PEB":5},
{"t":40.6,"WBA":3,"MESL":8,"ABH":-35,"MILB":24,"PEB":1},
{"t":40.7,"WBA":-2,"MESL":-3,"ABH":25,"MILB":-20,"PEB":-3},
{"t":40.8,"WBA":-5,"MESL":-9,"ABH":64,"MILB":15,"PEB":-1},
{"t":40.9,"WBA":-1,"MESL":-2,"ABH":-30,"MILB":-22,"PEB":2},
{"t":41,"WBA":2,"MESL":7,"ABH":22,"MILB":-42,"PEB":4},
{"t":41.1,"WBA":4,"MESL":10,"ABH":-30,"MILB":39,"PEB":0},
{"t":41.2,"WBA":1,"MESL":2,"ABH":35,"MILB":-30,"PEB":-3},
{"t":41.3,"WBA":-2,"MESL":-8,"ABH":-20,"MILB":28,"PEB":-1},
{"t":41.4,"WBA":0,"MESL":-9,"ABH":18,"MILB":-35,"PEB":2},
{"t":41.5,"WBA":3,"MESL":1,"ABH":-28,"MILB":39,"PEB":6},
{"t":41.6,"WBA":-1,"MESL":9,"ABH":25,"MILB":-25,"PEB":1},
{"t":41.7,"WBA":-4,"MESL":8,"ABH":-15,"MILB":30,"PEB":-4},
{"t":41.8,"WBA":-1,"MESL":-4,"ABH":20,"MILB":-22,"PEB":-2},
{"t":41.9,"WBA":2,"MESL":-10,"ABH":-25,"MILB":26,"PEB":1},
{"t":42,"WBA":0,"MESL":-2,"ABH":18,"MILB":-20,"PEB":-4},
{"t":42.1,"WBA":-2,"MESL":9,"ABH":-8,"MILB":18,"PEB":5},
{"t":42.2,"WBA":1,"MESL":10,"ABH":-22,"MILB":-24,"PEB":3},
{"t":42.3,"WBA":3,"MESL":-1,"ABH":-5,"MILB":15,"PEB":-8},
{"t":42.4,"WBA":6,"MESL":-9,"ABH":15,"MILB":-16,"PEB":15},
{"t":42.5,"WBA":2,"MESL":-7,"ABH":28,"MILB":20,"PEB":-25},
{"t":42.6,"WBA":-1,"MESL":3,"ABH":6,"MILB":-12,"PEB":30},
{"t":42.7,"WBA":-3,"MESL":10,"ABH":-15,"MILB":26,"PEB":-20},
{"t":42.8,"WBA":0,"MESL":5,"ABH":-20,"MILB":-18,"PEB":38},
{"t":42.9,"WBA":2,"MESL":-6,"ABH":2,"MILB":14,"PEB":-56},
{"t":43,"WBA":1,"MESL":-9,"ABH":16,"MILB":-12,"PEB":48},
{"t":43.1,"WBA":-1,"MESL":1,"ABH":20,"MILB":10,"PEB":-40},
{"t":43.2,"WBA":-3,"MESL":9,"ABH":-4,"MILB":-8,"PEB":52},
{"t":43.3,"WBA":0,"MESL":8,"ABH":-18,"MILB":12,"PEB":-45},
{"t":43.4,"WBA":4,"MESL":-3,"ABH":-25,"MILB":-7,"PEB":-62},
{"t":43.5,"WBA":10,"MESL":-10,"ABH":-2,"MILB":9,"PEB":55},
{"t":43.6,"WBA":3,"MESL":-4,"ABH":15,"MILB":-10,"PEB":-60},
{"t":43.7,"WBA":-2,"MESL":7,"ABH":18,"MILB":6,"PEB":64},
{"t":43.8,"WBA":-1,"MESL":9,"ABH":-6,"MILB":-8,"PEB":-50},
{"t":43.9,"WBA":1,"MESL":0,"ABH":-16,"MILB":10,"PEB":45},
{"t":44,"WBA":-2,"MESL":-8,"ABH":-10,"MILB":-7,"PEB":-48},
{"t":44.1,"WBA":0,"MESL":-8,"ABH":12,"MILB":6,"PEB":58},
{"t":44.2,"WBA":2,"MESL":4,"ABH":22,"MILB":-9,"PEB":-42},
{"t":44.3,"WBA":1,"MESL":10,"ABH":8,"MILB":5,"PEB":50},
{"t":44.4,"WBA":-3,"MESL":4,"ABH":-14,"MILB":-6,"PEB":-55},
{"t":44.5,"WBA":-5,"MESL":-7,"ABH":-20,"MILB":8,"PEB":40},
{"t":44.6,"WBA":-1,"MESL":-9,"ABH":-4,"MILB":-4,"PEB":-38},
{"t":44.7,"WBA":2,"MESL":0,"ABH":18,"MILB":7,"PEB":-40},
{"t":44.8,"WBA":4,"MESL":9,"ABH":14,"MILB":-9,"PEB":73},
{"t":44.9,"WBA":1,"MESL":7,"ABH":-8,"MILB":5,"PEB":-35},
{"t":45,"WBA":-1,"MESL":8,"ABH":12,"MILB":8,"PEB":40},
{"t":45.1,"WBA":-3,"MESL":2,"ABH":-3,"MILB":-6,"PEB":-30},
{"t":45.2,"WBA":0,"MESL":-7,"ABH":20,"MILB":4,"PEB":35},
{"t":45.3,"WBA":2,"MESL":-10,"ABH":6,"MILB":9,"PEB":-28},
{"t":45.4,"WBA":1,"MESL":-1,"ABH":-10,"MILB":-7,"PEB":30},
{"t":45.5,"WBA":-2,"MESL":9,"ABH":-19,"MILB":-5,"PEB":-25},
{"t":45.6,"WBA":1,"MESL":7,"ABH":-5,"MILB":6,"PEB":24},
{"t":45.7,"WBA":4,"MESL":-5,"ABH":9,"MILB":-8,"PEB":-30},
{"t":45.8,"WBA":2,"MESL":-9,"ABH":18,"MILB":3,"PEB":20},
{"t":45.9,"WBA":-1,"MESL":0,"ABH":4,"MILB":7,"PEB":-22},
{"t":46,"WBA":-3,"MESL":9,"ABH":-12,"MILB":-5,"PEB":25},
{"t":46.1,"WBA":0,"MESL":3,"ABH":-18,"MILB":6,"PEB":-20},
{"t":46.2,"WBA":2,"MESL":-7,"ABH":-6,"MILB":-7,"PEB":18},
{"t":46.3,"WBA":-15,"MESL":-9,"ABH":8,"MILB":3,"PEB":-24},
{"t":46.4,"WBA":-4,"MESL":2,"ABH":17,"MILB":5,"PEB":16},
{"t":46.5,"WBA":3,"MESL":10,"ABH":4,"MILB":-6,"PEB":-15},
{"t":46.6,"WBA":11,"MESL":5,"ABH":-6,"MILB":-2,"PEB":20},
{"t":46.7,"WBA":4,"MESL":-5,"ABH":-17,"MILB":7,"PEB":-18},
{"t":46.8,"WBA":-1,"MESL":-8,"ABH":-3,"MILB":-4,"PEB":12},
{"t":46.9,"WBA":-2,"MESL":1,"ABH":14,"MILB":-3,"PEB":-16},
{"t":47,"WBA":0,"MESL":8,"ABH":6,"MILB":4,"PEB":15},
{"t":47.1,"WBA":2,"MESL":7,"ABH":12,"MILB":-5,"PEB":-12},
{"t":47.2,"WBA":-1,"MESL":-3,"ABH":-6,"MILB":2,"PEB":18},
{"t":47.3,"WBA":-3,"MESL":-10,"ABH":-16,"MILB":6,"PEB":-14},
{"t":47.4,"WBA":0,"MESL":-4,"ABH":-8,"MILB":-4,"PEB":10},
{"t":47.5,"WBA":1,"MESL":8,"ABH":4,"MILB":-3,"PEB":-16},
{"t":47.6,"WBA":3,"MESL":9,"ABH":15,"MILB":5,"PEB":13},
{"t":47.7,"WBA":1,"MESL":-2,"ABH":2,"MILB":-6,"PEB":-11},
{"t":47.8,"WBA":-2,"MESL":-8,"ABH":16,"MILB":3,"PEB":9},
{"t":47.9,"WBA":-1,"MESL":-6,"ABH":-3,"MILB":2,"PEB":-12},
{"t":48,"WBA":1,"MESL":4,"ABH":-11,"MILB":-4,"PEB":8},
{"t":48.1,"WBA":3,"MESL":10,"ABH":-15,"MILB":5,"PEB":-10},
{"t":48.2,"WBA":0,"MESL":6,"ABH":-2,"MILB":-3,"PEB":11},
{"t":48.3,"WBA":-2,"MESL":-5,"ABH":10,"MILB":-5,"PEB":-7},
{"t":48.4,"WBA":-10,"MESL":-10,"ABH":17,"MILB":4,"PEB":9},
{"t":48.5,"WBA":-3,"MESL":-2,"ABH":5,"MILB":2,"PEB":-8},
{"t":48.6,"WBA":1,"MESL":8,"ABH":-7,"MILB":-5,"PEB":6},
{"t":48.7,"WBA":2,"MESL":9,"ABH":-16,"MILB":9,"PEB":-9},
{"t":48.8,"WBA":-1,"MESL":-1,"ABH":-5,"MILB":-2,"PEB":10},
{"t":48.9,"WBA":0,"MESL":-8,"ABH":8,"MILB":-4,"PEB":-6},
{"t":49,"WBA":3,"MESL":-5,"ABH":15,"MILB":5,"PEB":7},
{"t":49.1,"WBA":9,"MESL":5,"ABH":3,"MILB":-3,"PEB":-5},
{"t":49.2,"WBA":2,"MESL":9,"ABH":-5,"MILB":-4,"PEB":8},
{"t":49.3,"WBA":-2,"MESL":3,"ABH":-16,"MILB":4,"PEB":-9},
{"t":49.4,"WBA":-1,"MESL":-7,"ABH":-8,"MILB":1,"PEB":4},
{"t":49.5,"WBA":1,"MESL":-9,"ABH":12,"MILB":-5,"PEB":6},
{"t":49.6,"WBA":-1,"MESL":0,"ABH":2,"MILB":3,"PEB":-7},
{"t":49.7,"WBA":-3,"MESL":8,"ABH":14,"MILB":2,"PEB":-3},
{"t":49.8,"WBA":0,"MESL":7,"ABH":-4,"MILB":-6,"PEB":5},
{"t":49.9,"WBA":2,"MESL":-4,"ABH":-11,"MILB":4,"PEB":-4},
{"t":50,"WBA":1,"MESL":-9,"ABH":-2,"MILB":-3,"PEB":5},
{"t":50.1,"WBA":-1,"MESL":-3,"ABH":9,"MILB":5,"PEB":-4},
{"t":50.2,"WBA":-3,"MESL":7,"ABH":15,"MILB":-2,"PEB":-6},
{"t":50.3,"WBA":0,"MESL":10,"ABH":4,"MILB":-9,"PEB":4},
{"t":50.4,"WBA":2,"MESL":2,"ABH":-17,"MILB":3,"PEB":3},
{"t":50.5,"WBA":4,"MESL":-8,"ABH":-8,"MILB":4,"PEB":-5},
{"t":50.6,"WBA":1,"MESL":-8,"ABH":6,"MILB":-4,"PEB":2},
{"t":50.7,"WBA":-2,"MESL":3,"ABH":16,"MILB":2,"PEB":6},
{"t":50.8,"WBA":-1,"MESL":9,"ABH":-3,"MILB":-5,"PEB":-3},
{"t":50.9,"WBA":1,"MESL":5,"ABH":-15,"MILB":3,"PEB":-4},
{"t":51,"WBA":3,"MESL":-5,"ABH":-8,"MILB":4,"PEB":3},
{"t":51.1,"WBA":0,"MESL":-9,"ABH":5,"MILB":-4,"PEB":5},
{"t":51.2,"WBA":-2,"MESL":-2,"ABH":14,"MILB":5,"PEB":-3},
{"t":51.3,"WBA":1,"MESL":8,"ABH":16,"MILB":-2,"PEB":-5},
{"t":51.4,"WBA":4,"MESL":8,"ABH":2,"MILB":-4,"PEB":2},
{"t":51.5,"WBA":1,"MESL":-2,"ABH":-12,"MILB":3,"PEB":4},
{"t":51.6,"WBA":-1,"MESL":-9,"ABH":-4,"MILB":-3,"PEB":-4},
{"t":51.7,"WBA":-3,"MESL":-5,"ABH":-16,"MILB":5,"PEB":-2},
{"t":51.8,"WBA":-1,"MESL":6,"ABH":6,"MILB":1,"PEB":5},
{"t":51.9,"WBA":2,"MESL":9,"ABH":10,"MILB":-5,"PEB":2},
{"t":52,"WBA":0,"MESL":2,"ABH":15,"MILB":3,"PEB":-4},
{"t":52.1,"WBA":-2,"MESL":-8,"ABH":3,"MILB":-5,"PEB":-3},
{"t":52.2,"WBA":1,"MESL":-9,"ABH":-9,"MILB":2,"PEB":4},
{"t":52.3,"WBA":3,"MESL":2,"ABH":-17,"MILB":4,"PEB":2},
{"t":52.4,"WBA":5,"MESL":10,"ABH":-5,"MILB":-5,"PEB":-5},
{"t":52.5,"WBA":8,"MESL":6,"ABH":7,"MILB":-1,"PEB":1},
{"t":52.6,"WBA":2,"MESL":-5,"ABH":16,"MILB":5,"PEB":4},
{"t":52.7,"WBA":-3,"MESL":-9,"ABH":2,"MILB":-3,"PEB":-3},
{"t":52.8,"WBA":-7,"MESL":-1,"ABH":-14,"MILB":-2,"PEB":-2},
{"t":52.9,"WBA":-2,"MESL":8,"ABH":-7,"MILB":4,"PEB":5},
{"t":53,"WBA":1,"MESL":8,"ABH":8,"MILB":-4,"PEB":2},
{"t":53.1,"WBA":0,"MESL":-2,"ABH":15,"MILB":3,"PEB":-4},
{"t":53.2,"WBA":5,"MESL":-9,"ABH":4,"MILB":5,"PEB":3},
{"t":53.3,"WBA":17,"MESL":-6,"ABH":-6,"MILB":-4,"PEB":4},
{"t":53.4,"WBA":4,"MESL":5,"ABH":-15,"MILB":-2,"PEB":-3},
{"t":53.5,"WBA":-3,"MESL":10,"ABH":-3,"MILB":4,"PEB":-2},
{"t":53.6,"WBA":-2,"MESL":3,"ABH":10,"MILB":-5,"PEB":5},
{"t":53.7,"WBA":1,"MESL":-7,"ABH":4,"MILB":3,"PEB":1},
{"t":53.8,"WBA":2,"MESL":-9,"ABH":14,"MILB":2,"PEB":-4},
{"t":53.9,"WBA":-1,"MESL":1,"ABH":-2,"MILB":-4,"PEB":3},
{"t":54,"WBA":-3,"MESL":9,"ABH":-12,"MILB":5,"PEB":14},
{"t":54.1,"WBA":0,"MESL":6,"ABH":-15,"MILB":-3,"PEB":-2},
{"t":54.2,"WBA":2,"MESL":-4,"ABH":-1,"MILB":-4,"PEB":-5},
{"t":54.3,"WBA":1,"MESL":-9,"ABH":10,"MILB":4,"PEB":3},
{"t":54.4,"WBA":-1,"MESL":-3,"ABH":16,"MILB":2,"PEB":2},
{"t":54.5,"WBA":-3,"MESL":7,"ABH":5,"MILB":-5,"PEB":-4},
{"t":54.6,"WBA":0,"MESL":9,"ABH":-8,"MILB":3,"PEB":1},
{"t":54.7,"WBA":3,"MESL":1,"ABH":-16,"MILB":-2,"PEB":5},
{"t":54.8,"WBA":1,"MESL":-8,"ABH":-6,"MILB":4,"PEB":-3},
{"t":54.9,"WBA":-2,"MESL":-8,"ABH":6,"MILB":-3,"PEB":-2},
{"t":55,"WBA":-1,"MESL":2,"ABH":15,"MILB":-4,"PEB":3},
{"t":55.1,"WBA":1,"MESL":9,"ABH":4,"MILB":5,"PEB":-3},
{"t":55.2,"WBA":3,"MESL":8,"ABH":-4,"MILB":-2,"PEB":-4},
{"t":55.3,"WBA":0,"MESL":-3,"ABH":-14,"MILB":-3,"PEB":4},
{"t":55.4,"WBA":-2,"MESL":-9,"ABH":-8,"MILB":9,"PEB":1},
{"t":55.5,"WBA":-4,"MESL":-6,"ABH":3,"MILB":-4,"PEB":-3},
{"t":55.6,"WBA":-1,"MESL":-20,"ABH":15,"MILB":1,"PEB":3},
{"t":55.7,"WBA":2,"MESL":-5,"ABH":16,"MILB":4,"PEB":2},
{"t":55.8,"WBA":1,"MESL":8,"ABH":-2,"MILB":-5,"PEB":-4},
{"t":55.9,"WBA":-1,"MESL":10,"ABH":-11,"MILB":2,"PEB":1},
{"t":56,"WBA":0,"MESL":3,"ABH":-16,"MILB":4,"PEB":4},
{"t":56.1,"WBA":2,"MESL":8,"ABH":-3,"MILB":-3,"PEB":-2},
{"t":56.2,"WBA":1,"MESL":25,"ABH":9,"MILB":5,"PEB":-3},
{"t":56.3,"WBA":-2,"MESL":5,"ABH":17,"MILB":-4,"PEB":3},
{"t":56.4,"WBA":-1,"MESL":-8,"ABH":6,"MILB":-2,"PEB":2},
{"t":56.5,"WBA":8,"MESL":-9,"ABH":-6,"MILB":3,"PEB":-4},
{"t":56.6,"WBA":2,"MESL":1,"ABH":-15,"MILB":-5,"PEB":2},
{"t":56.7,"WBA":-2,"MESL":9,"ABH":-4,"MILB":4,"PEB":4},
{"t":56.8,"WBA":-1,"MESL":7,"ABH":10,"MILB":2,"PEB":-3},
{"t":56.9,"WBA":1,"MESL":-3,"ABH":15,"MILB":-3,"PEB":-2},
{"t":57,"WBA":2,"MESL":-9,"ABH":4,"MILB":-5,"PEB":3},
{"t":57.1,"WBA":-1,"MESL":-4,"ABH":-8,"MILB":4,"PEB":-4},
{"t":57.2,"WBA":-3,"MESL":7,"ABH":-14,"MILB":-2,"PEB":2},
{"t":57.3,"WBA":-1,"MESL":10,"ABH":-15,"MILB":-4,"PEB":12},
{"t":57.4,"WBA":-11,"MESL":2,"ABH":-2,"MILB":5,"PEB":-3},
{"t":57.5,"WBA":-2,"MESL":-8,"ABH":12,"MILB":1,"PEB":-2},
{"t":57.6,"WBA":8,"MESL":-7,"ABH":17,"MILB":-4,"PEB":4},
{"t":57.7,"WBA":3,"MESL":4,"ABH":3,"MILB":3,"PEB":-1},
{"t":57.8,"WBA":-1,"MESL":9,"ABH":-8,"MILB":-3,"PEB":-4},
{"t":57.9,"WBA":-2,"MESL":4,"ABH":-16,"MILB":8,"PEB":3},
{"t":58,"WBA":0,"MESL":-4,"ABH":-6,"MILB":3,"PEB":2},
{"t":58.1,"WBA":2,"MESL":-9,"ABH":6,"MILB":-5,"PEB":-3},
{"t":58.2,"WBA":1,"MESL":-2,"ABH":16,"MILB":4,"PEB":-4},
{"t":58.3,"WBA":-1,"MESL":8,"ABH":2,"MILB":2,"PEB":3},
{"t":58.4,"WBA":-3,"MESL":9,"ABH":-12,"MILB":-4,"PEB":4},
{"t":58.5,"WBA":0,"MESL":0,"ABH":-14,"MILB":-3,"PEB":-2},
{"t":58.6,"WBA":2,"MESL":-8,"ABH":4,"MILB":5,"PEB":-3},
{"t":58.7,"WBA":4,"MESL":-7,"ABH":-2,"MILB":-2,"PEB":3},
{"t":58.8,"WBA":1,"MESL":4,"ABH":14,"MILB":-4,"PEB":1},
{"t":58.9,"WBA":-2,"MESL":10,"ABH":15,"MILB":4,"PEB":-4},
{"t":59,"WBA":-1,"MESL":5,"ABH":2,"MILB":-3,"PEB":3},
{"t":59.1,"WBA":0,"MESL":-7,"ABH":-12,"MILB":4,"PEB":1},
{"t":59.2,"WBA":2,"MESL":-9,"ABH":-17,"MILB":1,"PEB":-4},
{"t":59.3,"WBA":1,"MESL":1,"ABH":-3,"MILB":-5,"PEB":-2},
{"t":59.4,"WBA":-2,"MESL":9,"ABH":10,"MILB":3,"PEB":4},
{"t":59.5,"WBA":8,"MESL":8,"ABH":16,"MILB":2,"PEB":11},
{"t":59.6,"WBA":3,"MESL":-2,"ABH":5,"MILB":-4,"PEB":-3},
{"t":59.7,"WBA":-1,"MESL":-9,"ABH":-8,"MILB":5,"PEB":-1},
{"t":59.8,"WBA":-2,"MESL":-4,"ABH":-14,"MILB":-2,"PEB":3},
{"t":59.9,"WBA":0,"MESL":6,"ABH":-3,"MILB":-3,"PEB":2},
{"t":60,"WBA":1,"MESL":8,"ABH":8,"MILB":-2,"PEB":1}
]},
"vconcat":[
{"width":1796,"height":160,
 "title":{"text":"2025-03-28\u00a0 01:45:00 UTC","fontSize":37,"fontWeight":"bold","color":"black","anchor":"middle","frame":"group","offset":-25,"baseline":"alphabetic","dx":7},
 "mark":{"type":"line","color":"black","strokeWidth":2},
 "encoding":{
  "x":{"field":"t","type":"quantitative","scale":{"domain":[0,60],"nice":false,"zero":false},"axis":{"values":[20,40],"labels":false,"title":null,"tickSize":-6}},
  "y":{"field":"WBA","type":"quantitative","scale":{"domain":[-80,80],"nice":false},"axis":{"title":"WBA","titleAngle":0,"titleAlign":"right","titleBaseline":"middle","titleX":-22,"titleY":80,"titleFontSize":36,"titleFontWeight":"normal","labels":false,"ticks":false}}
 }},
{"width":1796,"height":160,
 "mark":{"type":"line","color":"black","strokeWidth":2},
 "encoding":{
  "x":{"field":"t","type":"quantitative","scale":{"domain":[0,60],"nice":false,"zero":false},"axis":{"values":[20,40],"labels":false,"title":null,"tickSize":-6}},
  "y":{"field":"MESL","type":"quantitative","scale":{"domain":[-80,80],"nice":false},"axis":{"title":"MESL","titleAngle":0,"titleAlign":"right","titleBaseline":"middle","titleX":-22,"titleY":80,"titleFontSize":36,"titleFontWeight":"normal","labels":false,"ticks":false}}
 }},
{"width":1796,"height":160,
 "mark":{"type":"line","color":"black","strokeWidth":2},
 "encoding":{
  "x":{"field":"t","type":"quantitative","scale":{"domain":[0,60],"nice":false,"zero":false},"axis":{"values":[20,40],"labels":false,"title":null,"tickSize":-6}},
  "y":{"field":"ABH","type":"quantitative","scale":{"domain":[-80,80],"nice":false},"axis":{"title":"ABH","titleAngle":0,"titleAlign":"right","titleBaseline":"middle","titleX":-22,"titleY":80,"titleFontSize":36,"titleFontWeight":"normal","labels":false,"ticks":false}}
 }},
{"width":1796,"height":160,
 "mark":{"type":"line","color":"black","strokeWidth":2},
 "encoding":{
  "x":{"field":"t","type":"quantitative","scale":{"domain":[0,60],"nice":false,"zero":false},"axis":{"values":[20,40],"labels":false,"title":null,"tickSize":-6}},
  "y":{"field":"MILB","type":"quantitative","scale":{"domain":[-80,80],"nice":false},"axis":{"title":"MILB","titleAngle":0,"titleAlign":"right","titleBaseline":"middle","titleX":-22,"titleY":80,"titleFontSize":36,"titleFontWeight":"normal","labels":false,"ticks":false}}
 }},
{"width":1796,"height":160,
 "mark":{"type":"line","color":"black","strokeWidth":2},
 "encoding":{
  "x":{"field":"t","type":"quantitative","scale":{"domain":[0,60],"nice":false,"zero":false},"axis":{"values":[0,20,40],"labels":true,"labelFlush":false,"labelFontSize":36,"labelPadding":13,"title":"Zeit[s]","titleFontSize":36,"titleFontWeight":"bold","titleX":804,"titleY":78,"titleAlign":"center","titleBaseline":"alphabetic","tickSize":-6}},
  "y":{"field":"PEB","type":"quantitative","scale":{"domain":[-80,80],"nice":false},"axis":{"title":"PEB","titleAngle":0,"titleAlign":"right","titleBaseline":"middle","titleX":-22,"titleY":80,"titleFontSize":36,"titleFontWeight":"normal","labels":false,"ticks":false}}
 }}
]
}
